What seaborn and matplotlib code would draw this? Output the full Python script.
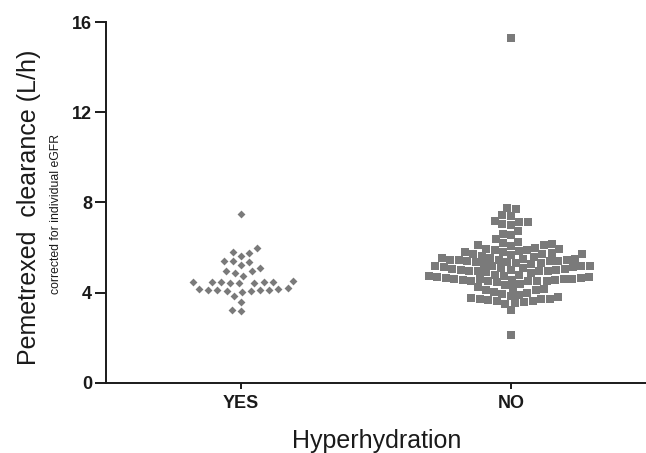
import numpy as np
import pandas as pd
import seaborn as sns
import matplotlib.pyplot as plt
from matplotlib.path import Path

sns.set_theme(style="ticks")
plt.rcParams['font.family'] = ['Liberation Sans', 'DejaVu Sans']

groups = ["YES", "NO"]
yticks = [0, 4, 8, 12, 16]

yes_values = [7.5, 6.0, 5.8, 5.78, 5.62, 5.42, 5.4, 5.38, 5.23, 5.1, 4.96, 4.94,
              4.87, 4.76,
              4.50, 4.48, 4.47, 4.46, 4.45, 4.44, 4.43, 4.42, 4.49,
              4.20, 4.15, 4.12, 4.10, 4.08, 4.07, 4.05, 4.10, 4.13, 4.18,
              3.85, 3.6, 3.25, 3.2]

no_values = [15.3,
             7.75, 7.7, 7.45, 7.42, 7.2, 7.12, 7.05, 7.0, 7.15, 6.75, 6.55, 6.4,
             6.62, 6.2, 6.25,
             5.68, 5.55, 5.5, 5.45, 5.45, 5.2, 5.12, 5.05, 5.0, 4.95,
             4.6, 4.6, 4.55, 4.5, 4.5, 4.25, 4.15, 4.1, 4.0,
             5.45, 5.45, 5.5, 5.55, 5.62, 4.95, 5.0, 5.08, 5.15, 5.2,
             4.5, 4.5, 4.55, 4.58, 4.62, 4.05, 4.12, 4.2,
             6.1, 5.9, 5.75, 5.4, 5.3, 5.0, 4.85, 4.7,
             6.05, 5.85, 5.7, 5.35, 5.25, 4.95, 4.8, 4.65,
             5.95, 5.8, 5.4, 5.2, 5.05, 4.75, 4.6, 4.4,
             6.0, 5.8, 5.6, 5.3, 5.1, 4.8, 4.65, 4.35,
             6.1, 5.9, 5.7, 5.4, 5.25, 4.9, 4.7, 4.45,
             6.15, 5.95, 5.7, 5.35, 5.2, 4.95, 4.75, 4.5,
             3.95, 3.9, 3.85, 3.8, 3.75,
             3.7, 3.65, 3.6, 3.55, 3.7, 3.62, 3.5, 3.68, 3.72,
             3.24, 2.13]

df_yes = pd.DataFrame({"group": "YES", "value": yes_values})
df_no = pd.DataFrame({"group": "NO", "value": no_values})

gray = "#7a7a7a"


def padded_marker(shape, frac):
    """Marker glyph drawn a bit smaller than its nominal size (leaves a gap in the swarm)."""
    if shape == "square":
        pts = [(-frac, -frac), (frac, -frac), (frac, frac), (-frac, frac), (-frac, -frac)]
    else:
        pts = [(0, -frac), (frac, 0), (0, frac), (-frac, 0), (0, -frac)]
    verts = [(-1, -1)] + pts + [(1, 1)]
    codes = [Path.MOVETO, Path.MOVETO] + [Path.LINETO] * 3 + [Path.CLOSEPOLY, Path.MOVETO]
    return Path(verts, codes)


fig = plt.figure(figsize=(6.46, 4.53), dpi=100)
ax = fig.add_axes([0.164, 0.155, 0.836, 0.796])

sns.swarmplot(data=df_yes, x="group", y="value", order=groups,
              marker=padded_marker("diamond", 0.9), size=6.3,
              color=gray, linewidth=0, ax=ax)
sns.swarmplot(data=df_no, x="group", y="value", order=groups,
              marker=padded_marker("square", 0.86), size=5.9,
              color=gray, linewidth=0, ax=ax)

ax.set_ylim(0, 16)
ax.set_xlim(-0.5, 1.5)
ax.set_yticks(yticks)
ax.set_yticklabels([str(t) for t in yticks], fontsize=13, fontweight="bold")
ax.set_xticks([0, 1])
ax.set_xticklabels(groups, fontsize=13, fontweight="bold")
ax.set_xlabel("")
ax.set_ylabel("")

for s in ["top", "right"]:
    ax.spines[s].set_visible(False)
for s in ["left", "bottom"]:
    ax.spines[s].set_linewidth(1.4)
    ax.spines[s].set_color("#1a1a1a")
ax.tick_params(axis="y", length=8, width=1.4, pad=2, colors="#1a1a1a")
ax.tick_params(axis="x", length=4, width=1.4, pad=5, colors="#1a1a1a")

fig.text(0.045, 0.542, "Pemetrexed  clearance (L/h)", rotation=90,
         ha="center", va="center", fontsize=18, color="#1a1a1a")
fig.text(0.086, 0.528, "corrected for individual eGFR", rotation=90,
         ha="center", va="center", fontsize=8.8, color="#1a1a1a")
fig.text(0.583, 0.026, "Hyperhydration", ha="center", va="center",
         fontsize=18, color="#1a1a1a")

fig.savefig("out.png", dpi=100)
